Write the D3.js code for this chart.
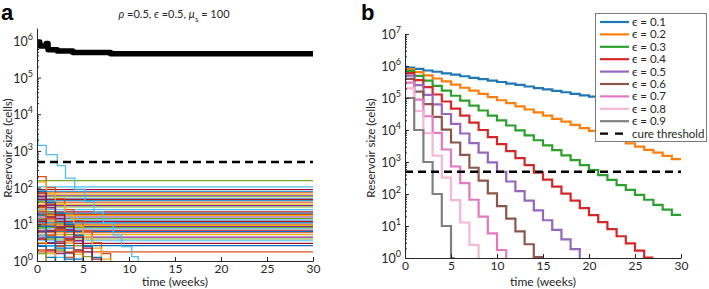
<!DOCTYPE html>
<html lang="en">
<head>
<meta charset="UTF-8">
<script src="https://d3js.org/d3.v7.min.js"></script>
<title>Reservoir size</title>
<style>
  body { margin: 0; background: #fff; }
  svg text { font-family: Lato, "Noto Sans", sans-serif; fill: #262626; }
  svg text.panel { font-family: "Liberation Sans", Arial, sans-serif; font-weight: bold; fill: #000; }
</style>
</head>
<body>
<div id="chart"></div>
<script>
// ---------- data: panel a (log10 of cells) ----------
const xTicks = [0, 5, 10, 15, 20, 25, 30];

// total reservoir (black), step times in weeks
const totalT   = [0, 0.3, 1.0, 1.2, 2.2, 3.9, 8, 30];
const totalLog = [5.97, 5.86, 5.93, 5.76, 5.72, 5.68, 5.65, 5.65];

// clones that stay flat over the 30 weeks
const flatLog = [2.19, 2.02, 1.95, 1.90, 1.86, 1.82, 1.78, 1.75, 1.71, 1.68,
                 1.64, 1.60, 1.55, 1.51, 1.47, 1.40, 1.34, 1.30, 1.27, 1.24,
                 1.20, 1.16, 1.12, 1.08, 1.04, 1.00, 0.97, 0.94, 0.91, 0.88,
                 0.84, 0.80, 0.77, 0.72, 0.65, 0.60, 0.55, 0.48, 0.42, 0.25];

// clones that decay week by week (value on [k, k+1))
const decayLog = [
  [2.30, 2.00, 1.70, 1.40, 1.10, 0.80, 0.50, 0.20],
  [2.15, 1.85, 1.55, 1.25, 0.95, 0.65, 0.35, 0.05],
  [1.90, 1.60, 1.30, 1.00, 0.70, 0.40, 0.10],
  [1.75, 1.45, 1.15, 0.85, 0.55, 0.25],
  [1.62, 1.32, 1.02, 0.72, 0.42, 0.12],
  [1.50, 1.20, 0.90, 0.60, 0.30],
  [1.38, 1.08, 0.78, 0.48, 0.18],
  [1.25, 0.95, 0.65, 0.35, 0.05],
  [1.12, 0.82, 0.52, 0.22],
  [1.00, 0.70, 0.40, 0.10],
  [0.90, 0.60, 0.30],
  [0.80, 0.50, 0.20],
  [0.70, 0.40, 0.10],
  [0.60, 0.30],
  [0.50, 0.20],
  [0.40, 0.10],
  [0.30],
  [0.20],
  [0.95, 0.65, 0.35, 0.05],
  [1.45, 1.15, 0.85, 0.55, 0.25],
  [1.85, 1.55, 1.25, 0.95, 0.65, 0.35, 0.05]
];
const decayColor = [1, 2, 0, 3, 4, 6, 2, 0, 6, 1, 4, 3, 5, 6, 2, 0, 1, 4, 0, 1, 6];

// the one large clone (light blue)
const bigT   = [0, 0.1, 1.0, 2.2, 3.1, 4.1, 5.2, 6.2, 7.2, 8.3, 9.2, 10.3, 11];
const bigLog = [3.45, 3.15, 2.90, 2.60, 2.26, 1.96, 1.62, 1.34, 1.03, 0.71, 0.39, 0.12, 0.12];

const cureThreshold = 500;

// ---------- data: panel b (log10 of cells, value on [k, k+1)) ----------
const epsLabels = ["0.1", "0.2", "0.3", "0.4", "0.5", "0.6", "0.7", "0.8", "0.9"];
const b01 = [5.95,5.91,5.86,5.82,5.77,5.73,5.68,5.63,5.59,5.54,5.50,5.45,5.41,5.36,5.31,
             5.27,5.22,5.18,5.13,5.08,5.04,4.99,4.95,4.90,4.86,4.81,4.76,4.72,4.67,4.63];
const b02 = [5.90,5.81,5.71,5.61,5.52,5.42,5.32,5.23,5.13,5.03,4.93,4.84,4.74,4.64,4.55,
             4.45,4.35,4.26,4.16,4.06,3.97,3.87,3.77,3.67,3.58,3.48,3.38,3.29,3.19,3.09];
const b03 = [5.85,5.69,5.54,5.38,5.23,5.07,4.92,4.76,4.61,4.45,4.30,4.14,3.99,3.83,3.68,
             3.52,3.37,3.21,3.06,2.90,2.75,2.59,2.44,2.28,2.13,1.97,1.82,1.66,1.51,1.35];
const b04 = [5.78,5.56,5.34,5.11,4.89,4.67,4.45,4.23,4.00,3.78,3.56,3.34,3.12,2.90,2.67,
             2.45,2.23,2.01,1.79,1.56,1.34,1.12,0.90,0.68,0.46,0.23,0.01];
const b05 = [5.70,5.40,5.10,4.80,4.50,4.19,3.89,3.59,3.29,2.99,2.69,2.39,2.09,1.79,1.49,
             1.18,0.88,0.58,0.28];
const b06 = [5.60,5.20,4.81,4.41,4.01,3.61,3.22,2.82,2.42,2.02,1.62,1.23,0.83,0.43,0.03];
const b07 = [5.48,4.95,4.43,3.91,3.39,2.86,2.34,1.82,1.29,0.77,0.25];
const b08 = [5.30,4.60,3.90,3.20,2.51,1.81,1.11,0.41];
const b09 = [5.00,4.00,3.00,2.00,1.00,0.00];
const endB = [30, 30, 30, 27, 19.3, 15, 11.3, 8.3, 5.4];

// ---------- styles ----------
const matlab = ["#0072BD", "#D95319", "#EDB120", "#7E2F8E", "#77AC30", "#4DBEEE", "#A2142F"];
const colorsB = ["#1f77b4", "#ff7f0e", "#2ca02c", "#d62728", "#9467bd",
                 "#8c564b", "#e377c2", "#f7b6d2", "#7f7f7f"];

const svg = d3.select("#chart").append("svg")
  .attr("width", 709).attr("height", 289);

// step series -> points
function stepPts(vals, end) {
  const pts = vals.map((v, k) => [k, v]);
  pts.push([vals.length, -1]);
  pts.push([end, -1]);
  return pts;
}

function makePanel(id, left, right, bottom, top, topExp) {
  const x = d3.scaleLinear().domain([0, 30]).range([left, right]);
  const y = d3.scaleLinear().domain([0, topExp]).range([bottom, top]); // log10 units
  svg.append("clipPath").attr("id", id)
    .append("rect").attr("x", left).attr("y", top)
    .attr("width", right - left).attr("height", bottom - top);
  const plot = svg.append("g").attr("clip-path", `url(#${id})`);
  return {x, y, plot};
}

function drawAxes(p, maxDecade, labelX) {
  const [bottom] = p.y.range();
  const xAxis = svg.append("g").attr("transform", `translate(0,${bottom})`)
    .call(d3.axisBottom(p.x).tickValues(xTicks).tickSizeInner(-4).tickSizeOuter(0).tickPadding(3));
  xAxis.selectAll("text").style("font-size", "12px").attr("fill", "#262626");

  // log y axis drawn on log10 scale
  const minors = [];
  for (let e = 0; e < maxDecade; e++)
    for (let m = 2; m < 10; m++) minors.push(e + Math.log10(m));
  const left = p.x.range()[0];
  svg.append("g").attr("transform", `translate(${left},0)`)
    .call(d3.axisLeft(p.y).tickValues(minors).tickSizeInner(-2).tickSizeOuter(0).tickFormat(""))
    .select(".domain").remove();
  const yAxis = svg.append("g").attr("transform", `translate(${left},0)`)
    .call(d3.axisLeft(p.y).tickValues(d3.range(0, maxDecade + 1)).tickSizeInner(-4).tickSizeOuter(0).tickFormat(""));
  d3.range(0, maxDecade + 1).forEach(e => {
    const t = yAxis.append("text").attr("x", -4).attr("y", p.y(e) + 5)
      .attr("text-anchor", "end").style("font-size", "12.5px");
    t.append("tspan").text("10");
    t.append("tspan").attr("dy", -6).style("font-size", "9px").text(e);
  });
  svg.selectAll(".domain, .tick line").attr("stroke", "#262626");

  svg.append("text").attr("x", (p.x.range()[0] + p.x.range()[1]) / 2).attr("y", 286)
    .attr("text-anchor", "middle").style("font-size", "12px").text("time (weeks)");
  svg.append("text").attr("transform", `translate(${labelX},148) rotate(-90)`)
    .attr("text-anchor", "middle").style("font-size", "11.5px").text("Reservoir size (cells)");
}

// ================= panel a =================
const pa = makePanel("clipA", 37, 313, 261, 28, 6.35);
const lineA = d3.line().x(d => pa.x(d[0])).y(d => pa.y(d[1])).curve(d3.curveStepAfter);

flatLog.forEach((v, i) => {
  pa.plot.append("path").attr("d", lineA([[0, v], [30, v]]))
    .attr("fill", "none").attr("stroke", matlab[(i + 4) % 7]).attr("stroke-width", 1.1);
});
decayLog.forEach((vals, i) => {
  pa.plot.append("path").attr("d", lineA(stepPts(vals, vals.length + 0.3)))
    .attr("fill", "none").attr("stroke", matlab[decayColor[i]]).attr("stroke-width", 1.4);
});
pa.plot.append("path")
  .attr("d", lineA(bigT.map((t, i) => [t, bigLog[i]]).concat([[11, -1]])))
  .attr("fill", "none").attr("stroke", matlab[5]).attr("stroke-width", 1.3);

pa.plot.append("path")
  .attr("d", lineA(totalT.map((t, i) => [t, totalLog[i]])))
  .attr("fill", "none").attr("stroke", "#000").attr("stroke-width", 5.5)
  .attr("stroke-linecap", "round").attr("stroke-linejoin", "round");

svg.append("line").attr("x1", pa.x(0)).attr("x2", pa.x(30))
  .attr("y1", pa.y(Math.log10(cureThreshold))).attr("y2", pa.y(Math.log10(cureThreshold)))
  .attr("stroke", "#000").attr("stroke-width", 2.5).attr("stroke-dasharray", "8,5");

drawAxes(pa, 6, 12);

const title = svg.append("text").attr("x", 174).attr("y", 18)
  .attr("text-anchor", "middle").style("font-size", "11px");
title.append("tspan").style("font-style", "italic").text("ρ");
title.append("tspan").text(" =0.5, ");
title.append("tspan").style("font-style", "italic").text("ϵ");
title.append("tspan").text(" =0.5, ");
title.append("tspan").style("font-style", "italic").text("μ");
title.append("tspan").attr("dy", 4).style("font-size", "8px").text("s");
title.append("tspan").attr("dy", -4).text(" = 100");

svg.append("text").attr("class", "panel").attr("x", 1).attr("y", 20)
  .style("font-size", "22px").text("a");

// ================= panel b =================
const pb = makePanel("clipB", 405, 681, 258, 34, 7);
const lineB = d3.line().x(d => pb.x(d[0])).y(d => pb.y(d[1])).curve(d3.curveStepAfter);
const seriesB = [b01, b02, b03, b04, b05, b06, b07, b08, b09];

seriesB.forEach((vals, i) => {
  const pts = [[0, 6]].concat(vals.map((v, k) => [k + 0.001, v]));
  if (endB[i] > vals.length) pts.push([vals.length, -1], [endB[i], -1]);
  else pts.push([endB[i], vals[vals.length - 1]]);
  pb.plot.append("path").attr("d", lineB(pts))
    .attr("fill", "none").attr("stroke", colorsB[i]).attr("stroke-width", 2.2);
});

svg.append("line").attr("x1", pb.x(0)).attr("x2", pb.x(30))
  .attr("y1", pb.y(Math.log10(cureThreshold))).attr("y2", pb.y(Math.log10(cureThreshold)))
  .attr("stroke", "#000").attr("stroke-width", 2.5).attr("stroke-dasharray", "8,5");

drawAxes(pb, 7, 375);

svg.append("text").attr("class", "panel").attr("x", 361).attr("y", 20)
  .style("font-size", "22px").text("b");

// legend
const leg = svg.append("g");
leg.append("rect").attr("x", 595.5).attr("y", 13.5).attr("width", 111).attr("height", 128)
  .attr("fill", "#fff").attr("stroke", "#7a7a7a").attr("stroke-width", 1);
const legItems = epsLabels.map((e, i) => ({label: "ϵ = " + e, color: colorsB[i], dash: null}))
  .concat([{label: "cure threshold", color: "#000", dash: "8,7"}]);
legItems.forEach((d, i) => {
  const yy = 22 + i * 12.4;
  leg.append("line").attr("x1", 600).attr("x2", d.dash ? 623 : 629).attr("y1", yy).attr("y2", yy)
    .attr("stroke", d.color).attr("stroke-width", 2.2).attr("stroke-dasharray", d.dash);
  leg.append("text").attr("x", 632).attr("y", yy + 4).style("font-size", "11.5px").text(d.label);
});
</script>
</body>
</html>
